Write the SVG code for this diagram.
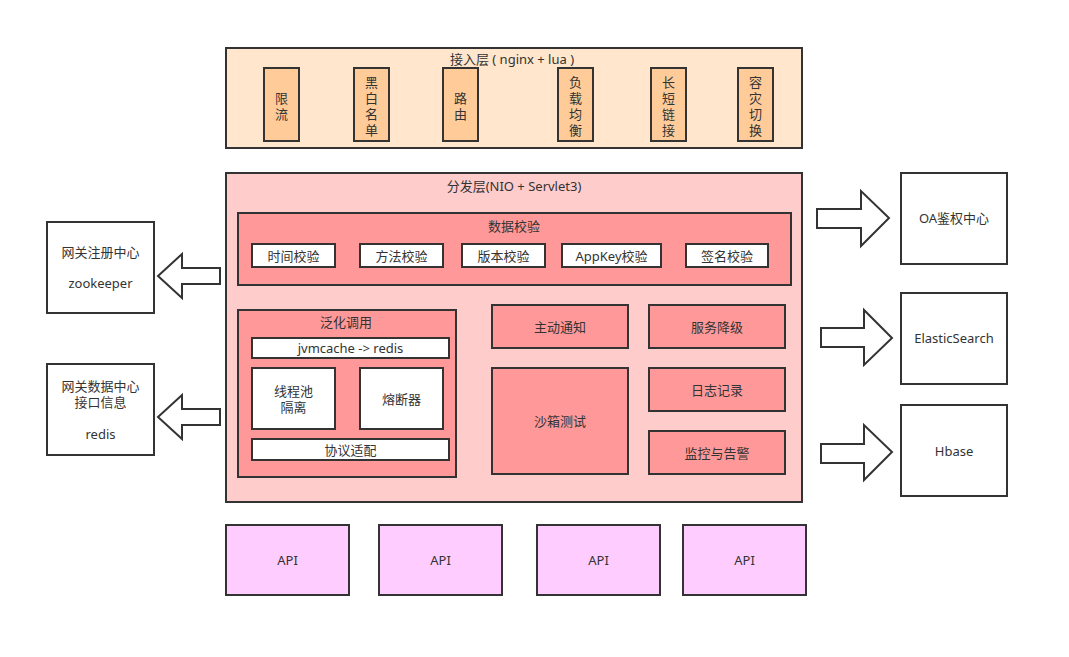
<svg xmlns="http://www.w3.org/2000/svg" width="1069" height="657" viewBox="0 0 1069 657">
<style>
text{font-family:"Noto Sans","Noto Sans CJK SC",sans-serif;font-size:13px;fill:#333;text-anchor:middle;dominant-baseline:central}
.b{stroke:#333;stroke-width:2}
.peach{fill:#FFE6CC}
.orange{fill:#FFCC99}
.pink{fill:#FFCCCC}
.red{fill:#FF9999}
.white{fill:#FFFFFF}
.api{fill:#FFCCFF}
.arrow{fill:#FFFFFF;stroke:#333;stroke-width:2}
</style>
<rect width="1069" height="657" fill="#FFFFFF"/>

<g id="access-layer">
<rect class="b peach" x="226" y="48" width="576" height="100"/>
<text x="512" y="59">接入层 ( nginx + lua )</text>
</g>
<g id="ratelimit"><rect class="b orange" x="264" y="68" width="35" height="73"/><text x="281.5" y="98">限</text><text x="281.5" y="114">流</text></g>
<g id="blackwhite"><rect class="b orange" x="354" y="68" width="35" height="73"/><text x="371.5" y="82">黑</text><text x="371.5" y="98">白</text><text x="371.5" y="114">名</text><text x="371.5" y="130">单</text></g>
<g id="route"><rect class="b orange" x="443" y="68" width="35" height="73"/><text x="460.5" y="98">路</text><text x="460.5" y="114">由</text></g>
<g id="lb"><rect class="b orange" x="558" y="68" width="35" height="73"/><text x="575.5" y="82">负</text><text x="575.5" y="98">载</text><text x="575.5" y="114">均</text><text x="575.5" y="130">衡</text></g>
<g id="conn"><rect class="b orange" x="651" y="68" width="35" height="73"/><text x="668.5" y="82">长</text><text x="668.5" y="98">短</text><text x="668.5" y="114">链</text><text x="668.5" y="130">接</text></g>
<g id="failover"><rect class="b orange" x="738" y="68" width="35" height="73"/><text x="755.5" y="82">容</text><text x="755.5" y="98">灾</text><text x="755.5" y="114">切</text><text x="755.5" y="130">换</text></g>

<g id="dispatch-layer">
<rect class="b pink" x="226" y="173" width="576" height="329"/>
<text x="514" y="186">分发层(NIO + Servlet3)</text>
</g>

<g id="data-check">
<rect class="b red" x="238" y="213" width="553" height="72"/>
<text x="514" y="226">数据校验</text>
</g>
<g id="time-check"><rect class="b white" x="252" y="244" width="83" height="23"/><text x="293.5" y="255.5">时间校验</text></g>
<g id="method-check"><rect class="b white" x="360" y="244" width="83" height="23"/><text x="401.5" y="255.5">方法校验</text></g>
<g id="version-check"><rect class="b white" x="462" y="244" width="83" height="23"/><text x="503.5" y="255.5">版本校验</text></g>
<g id="appkey-check"><rect class="b white" x="562" y="244" width="99" height="23"/><text x="611.5" y="255.5">AppKey校验</text></g>
<g id="sign-check"><rect class="b white" x="686" y="244" width="82" height="23"/><text x="727" y="255.5">签名校验</text></g>

<g id="generic-call">
<rect class="b red" x="238" y="310" width="218" height="167"/>
<text x="346" y="322">泛化调用</text>
</g>
<g id="jvmcache"><rect class="b white" x="252" y="338" width="197" height="20"/><text x="350.5" y="348">jvmcache -&gt; redis</text></g>
<g id="threadpool"><rect class="b white" x="252" y="368" width="83" height="61"/><text x="293.5" y="391">线程池</text><text x="293.5" y="407">隔离</text></g>
<g id="breaker"><rect class="b white" x="360" y="368" width="83" height="61"/><text x="401.5" y="399">熔断器</text></g>
<g id="protocol"><rect class="b white" x="252" y="439" width="197" height="21"/><text x="350.5" y="450">协议适配</text></g>

<g id="notify"><rect class="b red" x="492" y="305" width="136" height="43"/><text x="560" y="327">主动通知</text></g>
<g id="degrade"><rect class="b red" x="649" y="305" width="136" height="43"/><text x="717" y="327">服务降级</text></g>
<g id="sandbox"><rect class="b red" x="492" y="368" width="136" height="106"/><text x="560" y="421">沙箱测试</text></g>
<g id="log"><rect class="b red" x="649" y="368" width="136" height="43"/><text x="717" y="390">日志记录</text></g>
<g id="monitor"><rect class="b red" x="649" y="431" width="136" height="43"/><text x="717" y="453">监控与告警</text></g>

<g id="api1"><rect class="b api" x="226" y="525" width="123" height="70"/><text x="287.5" y="560">API</text></g>
<g id="api2"><rect class="b api" x="379" y="525" width="123" height="70"/><text x="440.5" y="560">API</text></g>
<g id="api3"><rect class="b api" x="537" y="525" width="123" height="70"/><text x="598.5" y="560">API</text></g>
<g id="api4"><rect class="b api" x="683" y="525" width="123" height="70"/><text x="744.5" y="560">API</text></g>

<g id="registry"><rect class="b white" x="47" y="222" width="107" height="91"/><text x="100.5" y="252">网关注册中心</text><text x="100.5" y="283">zookeeper</text></g>
<g id="datacenter"><rect class="b white" x="47" y="364" width="107" height="91"/><text x="100.5" y="386">网关数据中心</text><text x="100.5" y="402">接口信息</text><text x="100.5" y="434">redis</text></g>

<g id="oa"><rect class="b white" x="901" y="173" width="106" height="91"/><text x="954" y="218">OA鉴权中心</text></g>
<g id="es"><rect class="b white" x="901" y="293" width="106" height="91"/><text x="954" y="338">ElasticSearch</text></g>
<g id="hbase"><rect class="b white" x="901" y="405" width="106" height="91"/><text x="954" y="451">Hbase</text></g>

<g id="connectors">
<path class="arrow" d="M220,268 L182,268 L182,254 L158,276 L182,298 L182,284 L220,284 Z"/>
<path class="arrow" d="M220,409 L182,409 L182,395 L158,417 L182,439 L182,425 L220,425 Z"/>
<path class="arrow" d="M817,209 L861,209 L861,191 L889,218 L861,246 L861,228 L817,228 Z"/>
<path class="arrow" d="M821,328 L864,328 L864,310 L892,338 L864,365 L864,347 L821,347 Z"/>
<path class="arrow" d="M821,444 L864,444 L864,425 L892,452 L864,480 L864,463 L821,463 Z"/>
</g>
</svg>
